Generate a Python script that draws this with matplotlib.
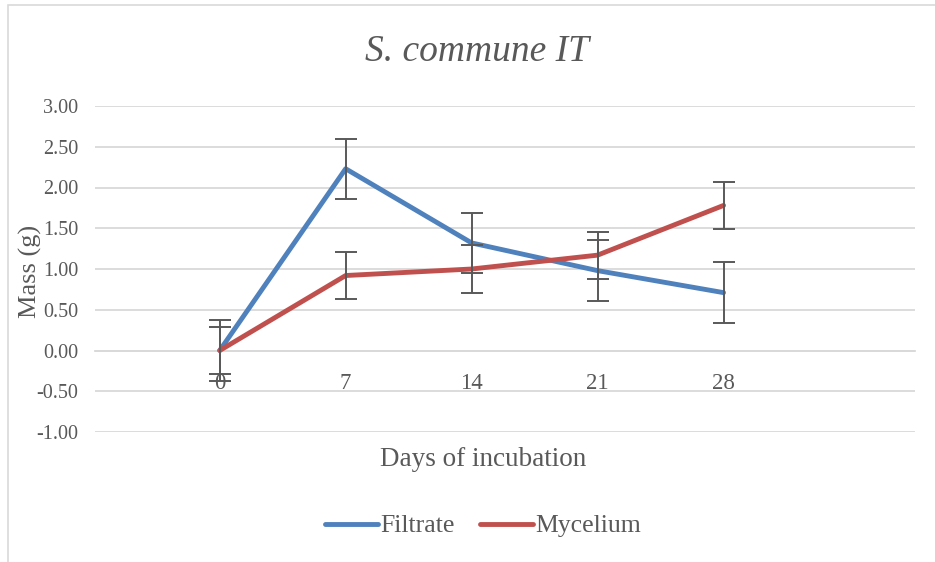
import matplotlib
matplotlib.use("Agg")
import matplotlib.pyplot as plt
from matplotlib.patches import Rectangle

days = ["0", "7", "14", "21", "28"]
filtrate = [0.00, 2.23, 1.32, 0.98, 0.71]
filtrate_err = [0.37, 0.37, 0.37, 0.37, 0.37]
mycelium = [0.00, 0.92, 1.00, 1.17, 1.78]
mycelium_err = [0.29, 0.29, 0.29, 0.29, 0.29]
yticks = [-1.0, -0.5, 0.0, 0.5, 1.0, 1.5, 2.0, 2.5, 3.0]

FONT = ["Liberation Serif", "DejaVu Serif"]
TXT = "#595959"
plt.rcParams["font.family"] = FONT

W, H = 935, 562
fig = plt.figure(figsize=(W / 100, H / 100), dpi=100)
fig.patch.set_facecolor("white")
fig.patches.append(Rectangle((8 / W, -0.1), 1.2, 1 - 5 / H + 0.1, transform=fig.transFigure,
                             fill=False, edgecolor="#D9D9D9", linewidth=1.2))

ax = fig.add_axes([95 / W, 1 - 432 / H, (915 - 95) / W, (432 - 106) / H])
x = list(range(len(days)))

ax.plot(x, filtrate, color="#4F81BD", lw=3.5, label="Filtrate", zorder=3, solid_capstyle="round")
ax.plot(x, mycelium, color="#C0504D", lw=3.5, label="Mycelium", zorder=3, solid_capstyle="round")
ax.errorbar(x, filtrate, yerr=filtrate_err, fmt="none", ecolor="#595959", elinewidth=1.4,
            capsize=8, capthick=1.4, zorder=4)
ax.errorbar(x, mycelium, yerr=mycelium_err, fmt="none", ecolor="#595959", elinewidth=1.4,
            capsize=8, capthick=1.4, zorder=4)

ax.set_xlim(-0.99, 5.52)
ax.set_ylim(-1.0, 3.0)
ax.set_yticks(yticks)
ax.set_yticklabels([f"{v:.2f}" for v in yticks], color=TXT, fontsize=14.5)
ax.yaxis.grid(True, color="#D9D9D9", linewidth=1.3)
ax.set_axisbelow(True)
ax.tick_params(axis="y", length=0, pad=12)
for s in ["top", "right", "left"]:
    ax.spines[s].set_visible(False)
ax.spines["bottom"].set_position(("data", 0))
ax.spines["bottom"].set_color("#D9D9D9")
ax.spines["bottom"].set_linewidth(1.3)
ax.set_xticks(x)
ax.set_xticklabels(days, color=TXT, fontsize=16.5)
ax.tick_params(axis="x", length=0, pad=16)

fig.text(477 / W, 1 - 52 / H, "S. commune IT", ha="center", va="center",
         fontsize=27, style="italic", color=TXT)
fig.text(483 / W, 1 - 460 / H, "Days of incubation", ha="center", va="center",
         fontsize=19.5, color=TXT)
fig.text(30 / W, 1 - 271 / H, "Mass (g)", ha="center", va="center", rotation=90,
         fontsize=19, color=TXT)

fig.legend(loc="center", bbox_to_anchor=(483 / W, 1 - 526 / H), ncol=2, frameon=False,
           fontsize=18.5, labelcolor=TXT, handlelength=2.05, handletextpad=0.1, columnspacing=1.0)

fig.savefig("out.png", dpi=100)
